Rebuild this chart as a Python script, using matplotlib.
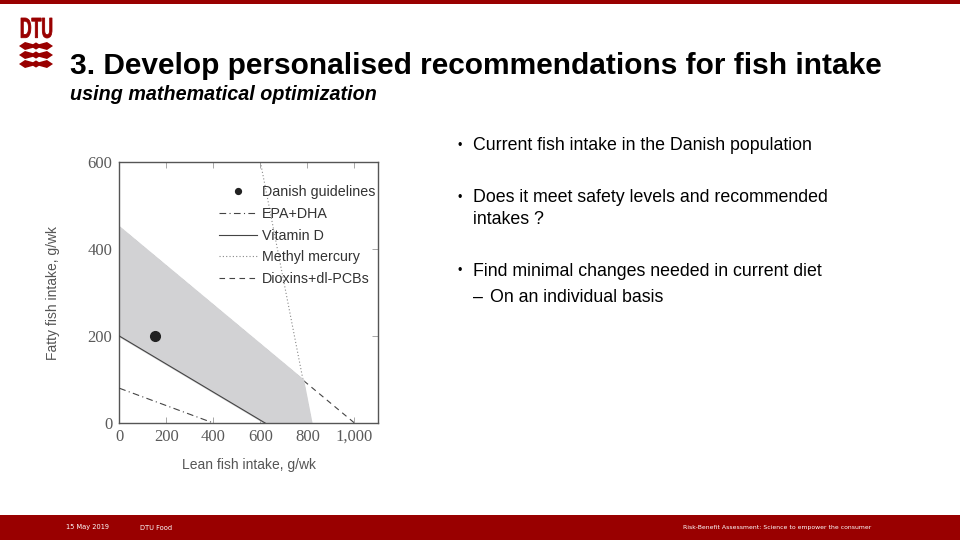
import numpy as np
import matplotlib.pyplot as plt
from matplotlib.patches import Polygon, Rectangle, PathPatch
from matplotlib.textpath import TextPath
from matplotlib.font_manager import FontProperties
from matplotlib.transforms import Affine2D

# data (g/wk)
guideline_lean = [150]
guideline_fatty = [200]

epa_lean = [0, 400]          # EPA+DHA lower limit
epa_fatty = [80, 0]
vitd_lean = [0, 620]         # Vitamin D lower limit
vitd_fatty = [200, 0]
mercury_lean = [600, 817]    # Methyl mercury upper limit
mercury_fatty = [600, 0]
dioxin_lean = [0, 1000]      # Dioxins+dl-PCBs upper limit
dioxin_fatty = [450, 0]

x_ticks = [0, 200, 400, 600, 800, 1000]
x_ticklabels = ["0", "200", "400", "600", "800", "1,000"]
y_ticks = [0, 200, 400, 600]

bullet_lines = [("\u2022", "Current fish intake in the Danish population", 146),
                ("\u2022", "Does it meet safety levels and recommended", 198),
                ("", "intakes ?", 219),
                ("\u2022", "Find minimal changes needed in current diet", 271)]
sub_bullet = "On an individual basis"

DTU_RED = "#990000"
W, H = 960, 540


def line_coef(xs, ys):
    m = (ys[1] - ys[0]) / (xs[1] - xs[0])
    return m, ys[0] - m * xs[0]


def corner():
    # intersection of dioxin and mercury limits
    m1, b1 = line_coef(dioxin_lean, dioxin_fatty)
    m2, b2 = line_coef(mercury_lean, mercury_fatty)
    x = (b2 - b1) / (m1 - m2)
    return x, m1 * x + b1


fig = plt.figure(figsize=(9.6, 5.4), dpi=100)
fig.patch.set_facecolor("white")

# slide decorations
fig.add_artist(Rectangle((0, 1 - 4 / H), 1, 4 / H, transform=fig.transFigure,
                         color=DTU_RED, lw=0))
fig.add_artist(Rectangle((0, 0), 1, 25 / H, transform=fig.transFigure,
                         color=DTU_RED, lw=0))

# DTU logo: letters squeezed into their box, then three bars
tp = TextPath((0, 0), "DTU", size=10, prop=FontProperties(family="Liberation Sans",
                                                          weight="bold"))
bb = tp.get_extents()
sx = (52 - 21) / W / bb.width
sy = (38 - 18) / H / bb.height
tr = Affine2D().translate(-bb.x0, -bb.y0).scale(sx, sy).translate(21 / W, 1 - 38 / H)
fig.add_artist(PathPatch(tr.transform_path(tp), transform=fig.transFigure,
                         color=DTU_RED, lw=0.6))
for yy in [46, 55, 64]:
    yf = 1 - yy / H
    h = 4.0 / H
    pts = [(19 / W, yf), (25 / W, yf + h), (33 / W, yf + h * 0.45),
           (36 / W, yf + h * 0.9), (39 / W, yf + h * 0.45), (47 / W, yf + h),
           (53 / W, yf), (47 / W, yf - h), (39 / W, yf - h * 0.45),
           (36 / W, yf - h * 0.9), (33 / W, yf - h * 0.45), (25 / W, yf - h)]
    fig.add_artist(Polygon(pts, closed=True, transform=fig.transFigure,
                           color=DTU_RED, lw=0))

fig.text(70 / W, 1 - 66 / H, "3. Develop personalised recommendations for fish intake",
         fontsize=21.5, fontweight="bold", family="Liberation Sans", va="center")
fig.text(70 / W, 1 - 95 / H, "using mathematical optimization",
         fontsize=14.2, fontweight="bold", style="italic", family="Liberation Sans",
         va="center")

for mark, txt, yy in bullet_lines:
    if mark:
        fig.text(458 / W, 1 - yy / H, mark, fontsize=9, family="Liberation Sans",
                 va="center")
    fig.text(473 / W, 1 - yy / H, txt, fontsize=12.8, family="Liberation Sans",
             va="center")
fig.text(473 / W, 1 - 297 / H, "\u2013", fontsize=12.8, family="Liberation Sans",
         va="center")
fig.text(490 / W, 1 - 297 / H, sub_bullet, fontsize=12.8, family="Liberation Sans",
         va="center")

fig.text(66 / W, 12.5 / H, "15 May 2019", color="white", fontsize=4.8, va="center")
fig.text(140 / W, 12.5 / H, "DTU Food", color="white", fontsize=4.8, va="center")
fig.text(683 / W, 12.5 / H,
         "Risk-Benefit Assessment: Science to empower the consumer",
         color="white", fontsize=4.45, va="center")

# chart
ax = fig.add_axes([119.3 / W, 117 / H, 258.7 / W, 261 / H])
cx, cy = corner()
region = [(vitd_lean[0], vitd_fatty[0]), (dioxin_lean[0], dioxin_fatty[0]), (cx, cy),
          (mercury_lean[1], mercury_fatty[1]), (vitd_lean[1], vitd_fatty[1])]
ax.add_patch(Polygon(region, closed=True, facecolor="#d2d2d4", edgecolor="#d2d2d4",
                     lw=1.6, zorder=2))

ax.plot(epa_lean, epa_fatty, color="#444444", lw=0.8, ls=(0, (6, 3, 1, 3)),
        label="EPA+DHA", zorder=3)
ax.plot(vitd_lean, vitd_fatty, color="#444444", lw=0.8, ls="-",
        label="Vitamin D", zorder=3)
ax.plot(mercury_lean, mercury_fatty, color="#888888", lw=0.8, ls=(0, (1, 2)),
        label="Methyl mercury", zorder=1)
ax.plot(dioxin_lean, dioxin_fatty, color="#444444", lw=0.8, ls=(0, (5, 4)),
        label="Dioxins+dl-PCBs", zorder=1)
ax.plot(guideline_lean, guideline_fatty, "o", color="#222222", ms=7, ls="none",
        label="Danish guidelines", zorder=4)

handles, labels = ax.get_legend_handles_labels()
order = [4, 0, 1, 2, 3]
ax.legend([handles[i] for i in order], [labels[i] for i in order],
          loc="upper left", bbox_to_anchor=(0.337, 0.96), frameon=False,
          handlelength=2.6, handletextpad=0.35, labelspacing=0.54,
          markerscale=0.6, labelcolor="#333333",
          prop={"family": "Liberation Sans", "size": 10.3})

ax.set_xlim(0, 1100)
ax.set_ylim(0, 600)
ax.set_xticks(x_ticks)
ax.set_xticklabels(x_ticklabels)
ax.set_yticks(y_ticks)
ax.tick_params(direction="in", top=True, right=True, length=4, width=0.6,
               colors="#999999", labelcolor="#5a5a5a", labelsize=12, pad=4)
for lab in ax.get_xticklabels() + ax.get_yticklabels():
    lab.set_family("Liberation Serif")
ax.tick_params(axis="y", pad=5)
for sp in ax.spines.values():
    sp.set_color("#555555")
    sp.set_linewidth(1.0)

ax.set_xlabel("Lean fish intake, g/wk", fontsize=10, color="#555555",
              family="Liberation Sans", labelpad=10)
ax.set_ylabel("Fatty fish intake, g/wk", fontsize=10, color="#555555",
              family="Liberation Sans", labelpad=20)

plt.savefig("out.png", dpi=100)
